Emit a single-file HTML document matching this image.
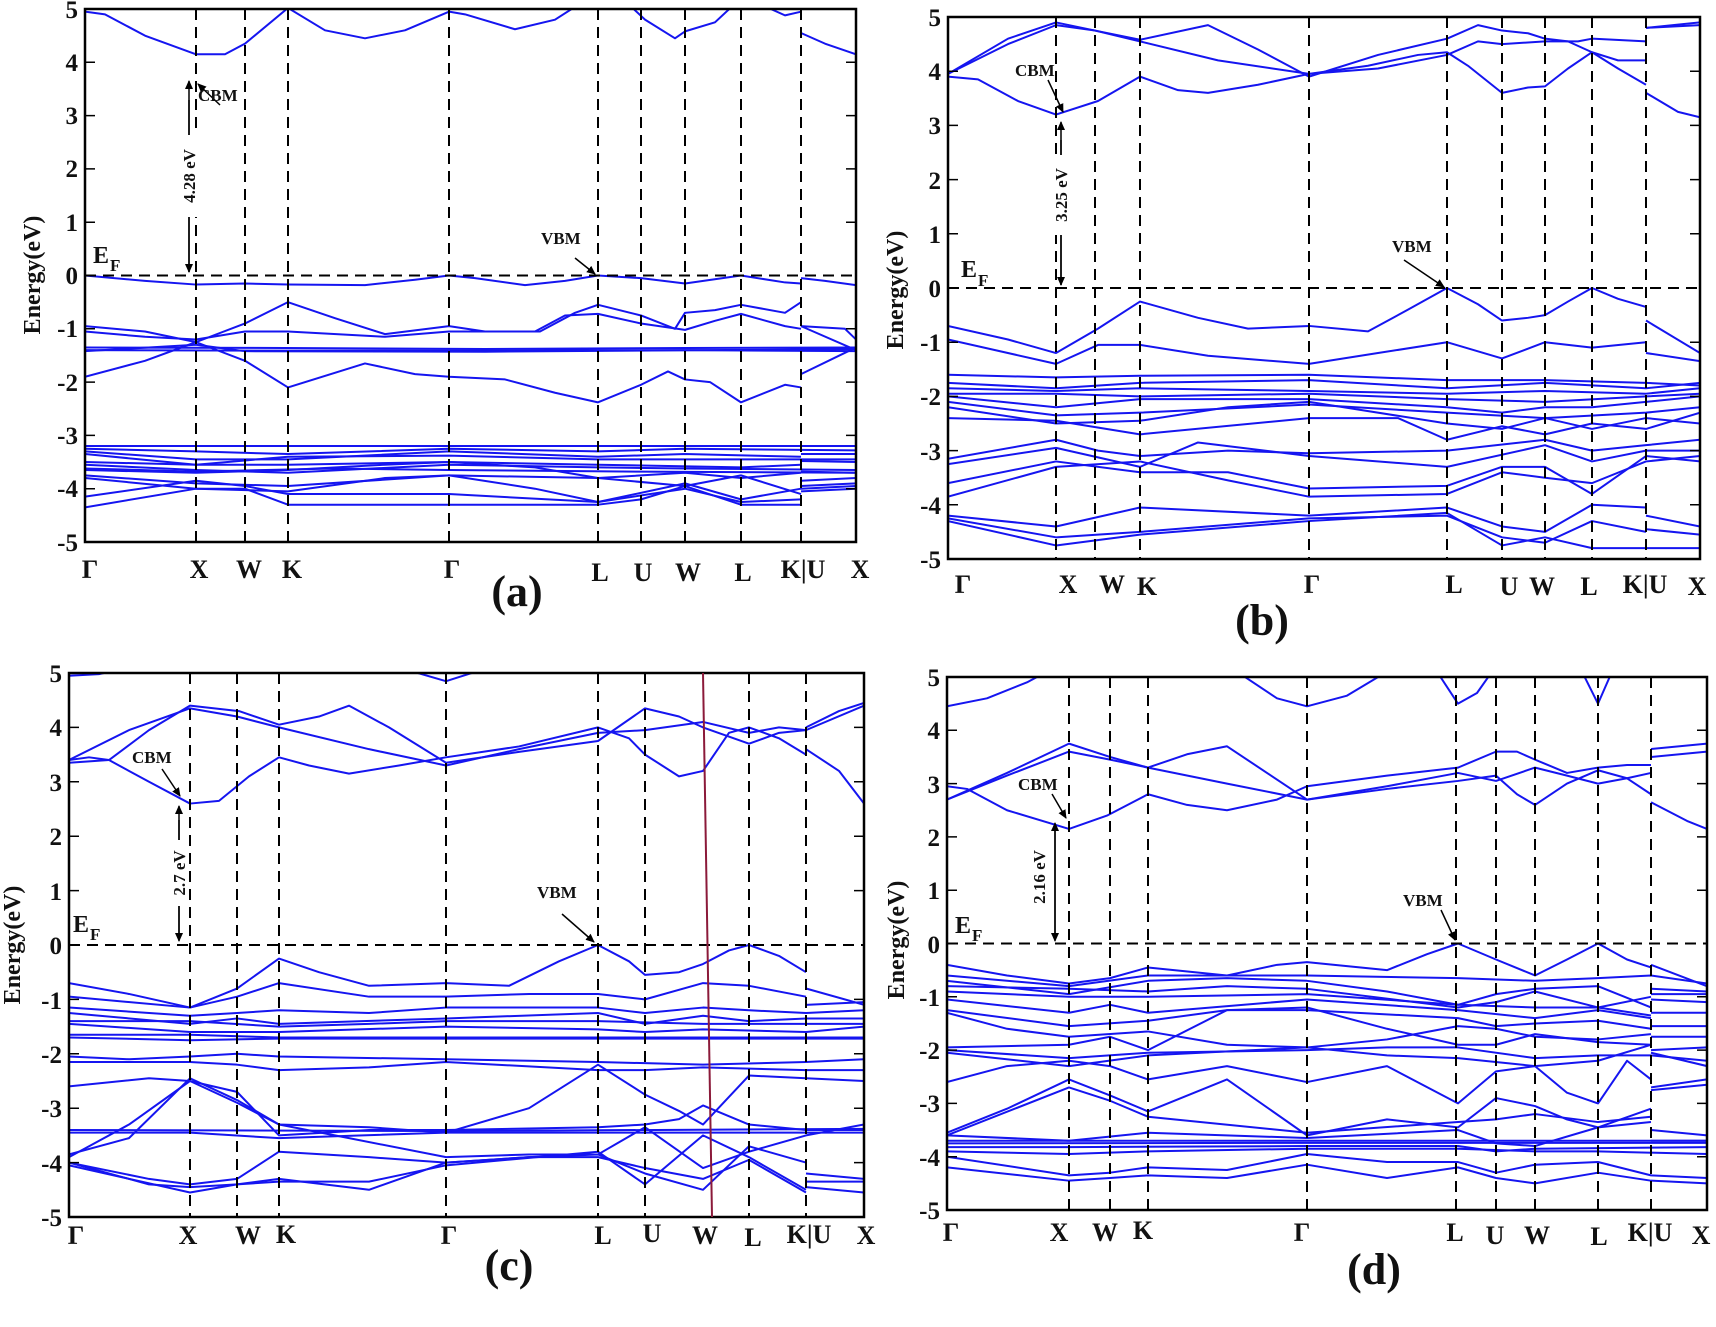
<!DOCTYPE html>
<html><head><meta charset="utf-8"><style>
html,body{margin:0;padding:0;background:#fff;}
svg text{font-family:"Liberation Serif",serif;font-weight:bold;fill:#111;}
.t{font-size:25px;text-anchor:end;}
.k{font-size:26px;text-anchor:middle;}
.lab{font-size:44px;text-anchor:middle;}
.en{font-size:24px;text-anchor:middle;}
.sm{font-size:17px;}
.b path{fill:none;stroke:#1515f0;stroke-width:2;vector-effect:non-scaling-stroke;stroke-linejoin:round;}
.d{stroke:#000;stroke-width:2;stroke-dasharray:11,7;fill:none;}
.f{fill:none;stroke:#000;stroke-width:2.5;}
</style></head><body>
<svg width="1716" height="1322" viewBox="0 0 1716 1322" xmlns="http://www.w3.org/2000/svg">
<defs><marker id="ah" markerWidth="10" markerHeight="10" refX="8" refY="5" orient="auto" markerUnits="userSpaceOnUse"><path d="M0,1 L9,5 L0,9 Z" fill="#000"/></marker></defs>

<!-- ================= PANEL A ================= -->
<svg x="85" y="9" width="771" height="533" viewBox="0 -5 771 10" preserveAspectRatio="none" overflow="hidden">
<g class="b" transform="scale(1,-1)">
<path d="M0,4.95 L20,4.9 L60,4.5 L111,4.15 L140,4.15 L160,4.35 L203,5.02 L240,4.6 L280,4.45 L320,4.6 L364,4.95 L380,4.9 L430,4.62 L470,4.8 L495,5.1"/>
<path d="M543,5.1 L560,4.8 L590,4.45 L600,4.58 L630,4.75 L650,5.1"/>
<path d="M680,5.05 L700,4.88 L716,4.95 M716,4.55 L740,4.35 L771,4.15"/>
<path d="M0,0 L60,-0.1 L111,-0.17 L160,-0.15 L203,-0.17 L280,-0.18 L330,-0.08 L364,0 L390,-0.05 L440,-0.18 L480,-0.1 L513,0 L556,-0.05 L600,-0.15 L656,0 L700,-0.13 L716,-0.15 M716,-0.05 L740,-0.1 L771,-0.18"/>
<path d="M0,-0.95 L60,-1.05 L111,-1.25 L160,-0.9 L203,-0.5 L250,-0.8 L300,-1.1 L364,-0.95 L400,-1.05 L455,-1.05 L490,-0.7 L513,-0.55 L556,-0.75 L590,-1.0 L600,-0.7 L630,-0.65 L656,-0.55 L700,-0.7 L716,-0.5 M716,-0.95 L760,-1.0 L771,-1.2"/>
<path d="M0,-1.05 L60,-1.15 L111,-1.2 L160,-1.05 L203,-1.05 L300,-1.15 L364,-1.05 L450,-1.05 L480,-0.75 L513,-0.72 L556,-0.9 L600,-1.02 L630,-0.85 L656,-0.72 L700,-0.95 L716,-1.0 M716,-0.95 L771,-1.4"/>
<path d="M0,-1.35 L200,-1.36 L400,-1.38 L600,-1.36 L771,-1.35"/>
<path d="M0,-1.4 L200,-1.41 L400,-1.41 L600,-1.4 L771,-1.42"/>
<path d="M0,-1.42 L111,-1.3 L160,-1.42 L400,-1.43 L771,-1.38"/>
<path d="M0,-1.9 L60,-1.6 L111,-1.25 L160,-1.6 L203,-2.1 L280,-1.65 L330,-1.85 L364,-1.9 L420,-1.95 L470,-2.2 L513,-2.38 L556,-2.05 L583,-1.8 L600,-1.95 L625,-2.0 L656,-2.38 L700,-2.05 L716,-2.1 M716,-1.85 L771,-1.35"/>
<path d="M0,-3.2 L364,-3.2 L771,-3.2"/>
<path d="M0,-3.25 L111,-3.3 L203,-3.35 L364,-3.25 L513,-3.3 L600,-3.25 L771,-3.28"/>
<path d="M0,-3.3 L111,-3.45 L203,-3.45 L364,-3.3 L513,-3.4 L600,-3.35 L716,-3.4 M716,-3.35 L771,-3.35"/>
<path d="M0,-3.35 L111,-3.55 L203,-3.4 L364,-3.38 L513,-3.45 L656,-3.45 L771,-3.45"/>
<path d="M0,-3.5 L111,-3.55 L203,-3.55 L364,-3.5 L513,-3.55 L656,-3.6 L716,-3.55 M716,-3.48 L771,-3.5"/>
<path d="M0,-3.55 L111,-3.65 L203,-3.7 L364,-3.55 L513,-3.6 L600,-3.62 L771,-3.65"/>
<path d="M0,-3.62 L111,-3.68 L250,-3.62 L364,-3.65 L556,-3.68 L771,-3.7"/>
<path d="M0,-3.65 L111,-3.7 L203,-3.65 L300,-3.55 L364,-3.5 L450,-3.6 L513,-3.8 L600,-3.7 L656,-3.8 L716,-3.7 M716,-3.68 L771,-3.7"/>
<path d="M0,-3.75 L111,-3.9 L203,-3.95 L364,-3.75 L513,-3.8 L600,-3.95 L656,-3.75 L716,-4.1 M716,-3.85 L771,-3.8"/>
<path d="M0,-4.15 L111,-3.85 L160,-3.95 L203,-4.1 L364,-4.1 L513,-4.25 L600,-3.9 L656,-4.2 L716,-4.0 M716,-3.95 L771,-3.9"/>
<path d="M0,-4.35 L111,-4.0 L160,-4.0 L203,-4.3 L364,-4.3 L513,-4.3 L556,-4.2 L600,-3.95 L656,-4.3 L716,-4.3 M716,-4.0 L771,-3.95"/>
<path d="M0,-3.8 L111,-4.0 L203,-4.05 L300,-3.8 L364,-3.75 L450,-4.0 L513,-4.25 L600,-4.0 L656,-4.25 L716,-4.2 M716,-4.05 L771,-4.0"/>
</g></svg>
<g>
<rect class="f" x="85" y="9" width="771" height="533"/>
<path class="d" d="M196,9V542M245,9V542M288,9V542M449,9V542M598,9V542M641,9V542M685,9V542M741,9V542M801,9V542M85,275.5H856"/>
<path d="M85,9h10M85,62.3h10M85,115.6h10M85,168.9h10M85,222.2h10M85,275.5h10M85,328.8h10M85,382.1h10M85,435.4h10M85,488.7h10M85,542h10M856,62.3h-10M856,115.6h-10M856,168.9h-10M856,222.2h-10M856,328.8h-10M856,382.1h-10M856,435.4h-10M856,488.7h-10" stroke="#000" stroke-width="1.5"/>
<text class="t" x="78" y="18">5</text><text class="t" x="78" y="71">4</text><text class="t" x="78" y="124">3</text><text class="t" x="78" y="177">2</text><text class="t" x="78" y="231">1</text><text class="t" x="78" y="284">0</text><text class="t" x="78" y="337">-1</text><text class="t" x="78" y="391">-2</text><text class="t" x="78" y="444">-3</text><text class="t" x="78" y="497">-4</text><text class="t" x="78" y="551">-5</text>
<text class="en" transform="translate(40,275) rotate(-90)">Energy(eV)</text>
<text class="k" x="90" y="578">Γ</text><text class="k" x="199" y="578">X</text><text class="k" x="249" y="578">W</text><text class="k" x="292" y="578">K</text><text class="k" x="452" y="578">Γ</text><text class="k" x="600" y="581">L</text><text class="k" x="643" y="581">U</text><text class="k" x="688" y="581">W</text><text class="k" x="743" y="581">L</text><text class="k" x="803" y="578">K|U</text><text class="k" x="860" y="578">X</text>
<text class="lab" x="517" y="606">(a)</text>
<text x="93" y="263" style="font-size:24px">E</text><text x="110" y="271" class="sm">F</text>
<line x1="189" y1="272" x2="189" y2="81" stroke="#000" stroke-width="1.5" marker-end="url(#ah)"/>
<line x1="189" y1="100" x2="189" y2="272" stroke="#000" stroke-width="1.5" marker-end="url(#ah)"/>
<rect x="181" y="135" width="16" height="82" fill="#fff"/>
<text class="sm" transform="translate(195,176) rotate(-90)" text-anchor="middle">4.28 eV</text>
<line x1="220" y1="105" x2="198" y2="84" stroke="#000" stroke-width="1.5" marker-end="url(#ah)"/>
<text class="sm" x="198" y="101">CBM</text>
<line x1="575" y1="258" x2="595" y2="274" stroke="#000" stroke-width="1.5" marker-end="url(#ah)"/>
<text class="sm" x="541" y="244">VBM</text>
</g>

<!-- ================= PANEL B ================= -->
<svg x="948" y="17" width="752" height="542" viewBox="0 -5 752 10" preserveAspectRatio="none" overflow="hidden">
<g class="b" transform="scale(1,-1)">
<path d="M0,3.9 L30,3.85 L70,3.45 L108,3.2 L150,3.45 L192,3.9 L230,3.65 L260,3.6 L310,3.75 L361,3.95 L420,4.1 L470,4.3 L499,4.35 L520,4.1 L554,3.6 L580,3.7 L597,3.72 L620,4.05 L644,4.35 L670,4.05 L698,3.75 M698,3.6 L730,3.25 L752,3.15"/>
<path d="M0,3.95 L60,4.5 L108,4.85 L147,4.75 L192,4.55 L270,4.2 L361,3.95 L430,4.05 L499,4.3 L530,4.55 L554,4.5 L597,4.55 L630,4.55 L644,4.6 L698,4.55 M698,4.8 L752,4.85"/>
<path d="M0,3.95 L60,4.6 L108,4.9 L147,4.75 L192,4.58 L260,4.85 L310,4.4 L361,3.9 L430,4.3 L499,4.6 L530,4.85 L554,4.75 L580,4.7 L597,4.6 L620,4.55 L644,4.35 L670,4.2 L698,4.2 M698,4.8 L752,4.9"/>
<path d="M0,-0.7 L60,-0.95 L108,-1.2 L150,-0.75 L192,-0.25 L250,-0.55 L300,-0.75 L361,-0.7 L420,-0.8 L460,-0.4 L499,0 L530,-0.3 L554,-0.6 L580,-0.55 L597,-0.5 L620,-0.25 L644,0 L670,-0.2 L698,-0.35 M698,-0.6 L752,-1.2"/>
<path d="M0,-0.95 L108,-1.4 L150,-1.05 L192,-1.05 L260,-1.25 L361,-1.4 L430,-1.2 L499,-1.0 L554,-1.3 L597,-1.0 L644,-1.1 L698,-1.0 M698,-1.2 L752,-1.35"/>
<path d="M0,-1.6 L108,-1.65 L192,-1.62 L361,-1.6 L499,-1.7 L597,-1.7 L698,-1.75 L752,-1.8"/>
<path d="M0,-1.75 L108,-1.85 L192,-1.75 L361,-1.7 L499,-1.85 L597,-1.75 L698,-1.85 L752,-1.75"/>
<path d="M0,-1.85 L108,-1.9 L192,-1.85 L361,-1.9 L499,-1.95 L597,-1.9 L698,-1.95 L752,-1.85"/>
<path d="M0,-1.95 L108,-1.95 L192,-2.0 L361,-1.95 L499,-2.05 L597,-2.1 L698,-2.0 L752,-1.95"/>
<path d="M0,-2.0 L108,-2.2 L192,-2.05 L361,-2.05 L499,-2.2 L554,-2.3 L597,-2.2 L644,-2.2 L698,-2.1 L752,-2.0"/>
<path d="M0,-2.1 L108,-2.35 L192,-2.3 L361,-2.15 L499,-2.3 L597,-2.4 L698,-2.3 L752,-2.2"/>
<path d="M0,-2.2 L108,-2.5 L192,-2.45 L280,-2.2 L361,-2.1 L499,-2.5 L554,-2.6 L597,-2.4 L644,-2.6 L698,-2.4 L752,-2.5"/>
<path d="M0,-2.4 L108,-2.45 L192,-2.7 L361,-2.4 L450,-2.4 L499,-2.8 L554,-2.55 L597,-2.7 L644,-2.5 L698,-2.6 L752,-2.3"/>
<path d="M0,-3.15 L108,-2.8 L150,-3.0 L192,-3.1 L280,-3.0 L361,-3.05 L499,-3.0 L597,-2.8 L644,-3.0 L698,-2.9 L752,-2.8"/>
<path d="M0,-3.25 L108,-2.95 L192,-3.3 L250,-2.85 L361,-3.1 L499,-3.3 L597,-2.9 L644,-3.2 L698,-3.0 L752,-3.0"/>
<path d="M0,-3.6 L108,-3.2 L192,-3.4 L280,-3.4 L361,-3.7 L499,-3.65 L554,-3.3 L597,-3.3 L644,-3.8 L698,-3.1 L752,-3.2"/>
<path d="M0,-3.85 L108,-3.3 L192,-3.2 L280,-3.55 L361,-3.85 L499,-3.8 L554,-3.4 L597,-3.5 L644,-3.6 L698,-3.2 L752,-3.1"/>
<path d="M0,-4.2 L108,-4.4 L192,-4.05 L361,-4.2 L499,-4.05 L554,-4.4 L597,-4.5 L644,-4.0 L698,-4.05 M698,-4.2 L752,-4.4"/>
<path d="M0,-4.25 L108,-4.6 L192,-4.5 L361,-4.25 L499,-4.2 L554,-4.6 L597,-4.7 L644,-4.3 L698,-4.5 M698,-4.45 L752,-4.55"/>
<path d="M0,-4.3 L108,-4.75 L192,-4.55 L361,-4.3 L499,-4.15 L554,-4.75 L597,-4.6 L644,-4.8 L698,-4.8 L752,-4.8"/>
</g></svg>
<g>
<rect class="f" x="948" y="17" width="752" height="542"/>
<path class="d" d="M1056,17V559M1095,17V559M1140,17V559M1309,17V559M1447,17V559M1502,17V559M1545,17V559M1592,17V559M1646,17V559M948,288H1700"/>
<path d="M948,71.2h10M948,125.4h10M948,179.6h10M948,233.8h10M948,342.2h10M948,396.4h10M948,450.6h10M948,504.8h10M1700,71.2h-10M1700,125.4h-10M1700,179.6h-10M1700,233.8h-10M1700,342.2h-10M1700,396.4h-10M1700,450.6h-10M1700,504.8h-10" stroke="#000" stroke-width="1.5"/>
<text class="t" x="941" y="26">5</text><text class="t" x="941" y="80">4</text><text class="t" x="941" y="134">3</text><text class="t" x="941" y="189">2</text><text class="t" x="941" y="243">1</text><text class="t" x="941" y="297">0</text><text class="t" x="941" y="351">-1</text><text class="t" x="941" y="405">-2</text><text class="t" x="941" y="460">-3</text><text class="t" x="941" y="514">-4</text><text class="t" x="941" y="568">-5</text>
<text class="en" transform="translate(903,290) rotate(-90)">Energy(eV)</text>
<text class="k" x="963" y="593">Γ</text><text class="k" x="1068" y="593">X</text><text class="k" x="1112" y="593">W</text><text class="k" x="1147" y="595">K</text><text class="k" x="1312" y="593">Γ</text><text class="k" x="1454" y="593">L</text><text class="k" x="1509" y="595">U</text><text class="k" x="1542" y="595">W</text><text class="k" x="1589" y="595">L</text><text class="k" x="1645" y="593">K|U</text><text class="k" x="1697" y="595">X</text>
<text class="lab" x="1262" y="635">(b)</text>
<text x="961" y="277" style="font-size:24px">E</text><text x="978" y="286" class="sm">F</text>
<line x1="1061" y1="285" x2="1061" y2="122" stroke="#000" stroke-width="1.5" marker-end="url(#ah)"/>
<line x1="1061" y1="140" x2="1061" y2="285" stroke="#000" stroke-width="1.5" marker-end="url(#ah)"/>
<rect x="1053" y="155" width="16" height="80" fill="#fff"/>
<text class="sm" transform="translate(1067,195) rotate(-90)" text-anchor="middle">3.25 eV</text>
<line x1="1048" y1="80" x2="1063" y2="112" stroke="#000" stroke-width="1.5" marker-end="url(#ah)"/>
<text class="sm" x="1015" y="76">CBM</text>
<line x1="1404" y1="260" x2="1444" y2="287" stroke="#000" stroke-width="1.5" marker-end="url(#ah)"/>
<text class="sm" x="1392" y="252">VBM</text>
</g>

<!-- ================= PANEL C ================= -->
<svg x="69" y="673" width="795" height="544" viewBox="0 -5 795 10" preserveAspectRatio="none" overflow="hidden">
<g class="b" transform="scale(1,-1)">
<path d="M0,4.95 L30,4.98 L60,5.1 M330,5.1 L377,4.85 L420,5.1"/>
<path d="M0,3.4 L20,3.45 L40,3.4 L80,3.0 L121,2.6 L150,2.65 L180,3.1 L210,3.45 L240,3.3 L280,3.15 L330,3.3 L377,3.45 L450,3.65 L529,4.0 L560,3.8 L576,3.5 L610,3.1 L634,3.2 L660,3.9 L680,4.0 L710,3.8 L737,3.5 M737,3.6 L770,3.2 L795,2.6"/>
<path d="M0,3.35 L40,3.4 L80,3.95 L121,4.4 L170,4.3 L210,4.05 L250,4.2 L280,4.4 L320,4.0 L377,3.35 L450,3.55 L529,3.75 L576,4.35 L610,4.2 L634,4.0 L680,3.7 L710,3.9 L737,3.95 M737,4.0 L770,4.3 L795,4.45"/>
<path d="M0,3.4 L60,3.95 L121,4.35 L168,4.2 L210,4.0 L300,3.6 L377,3.3 L450,3.6 L529,3.9 L576,3.95 L634,4.1 L680,3.9 L710,4.0 L737,3.95 M737,3.95 L795,4.4"/>
<path d="M0,-0.7 L60,-0.9 L121,-1.15 L168,-0.8 L210,-0.25 L250,-0.5 L300,-0.75 L377,-0.7 L440,-0.75 L490,-0.3 L529,0 L560,-0.3 L576,-0.55 L610,-0.5 L634,-0.35 L660,-0.1 L680,0 L710,-0.2 L737,-0.5 M737,-0.8 L795,-1.1"/>
<path d="M0,-0.95 L121,-1.15 L168,-0.95 L210,-0.7 L300,-0.95 L377,-0.95 L460,-0.9 L529,-0.9 L576,-1.0 L634,-0.7 L680,-0.75 L737,-0.95 M737,-1.1 L795,-1.05"/>
<path d="M0,-1.15 L121,-1.3 L168,-1.25 L210,-1.2 L300,-1.25 L377,-1.15 L529,-1.15 L576,-1.25 L634,-1.15 L680,-1.2 L737,-1.25 L795,-1.2"/>
<path d="M0,-1.25 L121,-1.45 L168,-1.35 L210,-1.45 L377,-1.35 L529,-1.25 L576,-1.45 L634,-1.3 L680,-1.4 L737,-1.35 L795,-1.35"/>
<path d="M0,-1.4 L121,-1.4 L210,-1.5 L300,-1.45 L377,-1.4 L529,-1.4 L634,-1.45 L737,-1.45 L795,-1.45"/>
<path d="M0,-1.45 L121,-1.6 L210,-1.6 L377,-1.5 L529,-1.55 L576,-1.6 L634,-1.55 L737,-1.6 L795,-1.5"/>
<path d="M0,-1.65 L121,-1.65 L210,-1.7 L377,-1.7 L529,-1.7 L680,-1.7 L795,-1.7"/>
<path d="M0,-1.7 L121,-1.75 L210,-1.72 L377,-1.72 L529,-1.72 L795,-1.72"/>
<path d="M0,-2.05 L60,-2.1 L121,-2.05 L168,-2.0 L210,-2.05 L377,-2.1 L529,-2.15 L634,-2.2 L737,-2.15 L795,-2.1"/>
<path d="M0,-2.15 L121,-2.15 L168,-2.2 L210,-2.3 L300,-2.25 L377,-2.15 L529,-2.3 L576,-2.3 L634,-2.25 L737,-2.3 L795,-2.3"/>
<path d="M0,-2.6 L80,-2.45 L121,-2.5 L168,-2.9 L210,-3.3 L300,-3.35 L377,-3.45 L460,-3.0 L529,-2.2 L576,-2.75 L610,-3.05 L634,-3.3 L680,-2.4 L737,-2.45 L795,-2.5"/>
<path d="M0,-3.9 L60,-3.3 L121,-2.5 L168,-2.7 L210,-3.5 L300,-3.4 L377,-3.4 L529,-3.35 L576,-3.3 L610,-3.2 L634,-2.95 L680,-3.3 L737,-3.4 L795,-3.4"/>
<path d="M0,-3.4 L377,-3.42 L795,-3.38"/>
<path d="M0,-3.45 L121,-3.45 L210,-3.55 L377,-3.45 L529,-3.45 L680,-3.45 L795,-3.45"/>
<path d="M0,-3.85 L60,-3.55 L121,-2.45 L168,-2.85 L210,-3.3 L280,-3.55 L377,-3.9 L460,-3.85 L529,-3.85 L576,-3.35 L634,-4.1 L680,-3.8 L737,-3.5 L795,-3.3"/>
<path d="M0,-4.0 L80,-4.3 L121,-4.4 L168,-4.3 L210,-3.8 L300,-3.9 L377,-4.0 L460,-3.9 L529,-3.85 L576,-4.2 L634,-4.5 L680,-3.7 L737,-4.0 M737,-4.2 L795,-4.3"/>
<path d="M0,-4.0 L80,-4.4 L121,-4.45 L168,-4.4 L210,-4.3 L300,-4.5 L377,-4.0 L460,-3.9 L529,-3.9 L576,-4.1 L634,-4.3 L680,-3.95 L737,-4.55 M737,-4.45 L795,-4.55"/>
<path d="M0,-4.05 L121,-4.55 L168,-4.4 L210,-4.35 L300,-4.35 L377,-4.05 L529,-3.8 L576,-4.4 L634,-3.5 L680,-3.9 L737,-4.5 M737,-4.35 L795,-4.35"/>
</g></svg>
<g>
<rect class="f" x="69" y="673" width="795" height="544"/>
<path class="d" d="M190,673V1217M237,673V1217M279,673V1217M446,673V1217M598,673V1217M645,673V1217M749,673V1217M806,673V1217M69,945H864"/>
<line x1="703" y1="673" x2="712" y2="1217" stroke="#8b1a3a" stroke-width="2"/>
<path d="M69,727.4h10M69,781.8h10M69,836.2h10M69,890.6h10M69,999.4h10M69,1053.8h10M69,1108.2h10M69,1162.6h10M864,727.4h-10M864,781.8h-10M864,836.2h-10M864,890.6h-10M864,999.4h-10M864,1053.8h-10M864,1108.2h-10M864,1162.6h-10" stroke="#000" stroke-width="1.5"/>
<text class="t" x="62" y="682">5</text><text class="t" x="62" y="736">4</text><text class="t" x="62" y="791">3</text><text class="t" x="62" y="845">2</text><text class="t" x="62" y="900">1</text><text class="t" x="62" y="954">0</text><text class="t" x="62" y="1009">-1</text><text class="t" x="62" y="1063">-2</text><text class="t" x="62" y="1117">-3</text><text class="t" x="62" y="1172">-4</text><text class="t" x="62" y="1226">-5</text>
<text class="en" transform="translate(20,945) rotate(-90)">Energy(eV)</text>
<text class="k" x="76" y="1244">Γ</text><text class="k" x="188" y="1244">X</text><text class="k" x="248" y="1244">W</text><text class="k" x="286" y="1243">K</text><text class="k" x="449" y="1244">Γ</text><text class="k" x="603" y="1244">L</text><text class="k" x="652" y="1242">U</text><text class="k" x="705" y="1244">W</text><text class="k" x="753" y="1246">L</text><text class="k" x="809" y="1243">K|U</text><text class="k" x="866" y="1244">X</text>
<text class="lab" x="509" y="1280">(c)</text>
<text x="73" y="932" style="font-size:24px">E</text><text x="90" y="940" class="sm">F</text>
<line x1="179" y1="940" x2="179" y2="806" stroke="#000" stroke-width="1.5" marker-end="url(#ah)"/>
<line x1="179" y1="820" x2="179" y2="941" stroke="#000" stroke-width="1.5" marker-end="url(#ah)"/>
<rect x="171" y="840" width="16" height="66" fill="#fff"/>
<text class="sm" transform="translate(185,873) rotate(-90)" text-anchor="middle">2.7 eV</text>
<line x1="162" y1="769" x2="180" y2="796" stroke="#000" stroke-width="1.5" marker-end="url(#ah)"/>
<text class="sm" x="132" y="763">CBM</text>
<line x1="562" y1="914" x2="594" y2="942" stroke="#000" stroke-width="1.5" marker-end="url(#ah)"/>
<text class="sm" x="537" y="898">VBM</text>
</g>

<!-- ================= PANEL D ================= -->
<svg x="947" y="677" width="760" height="533" viewBox="0 -5 760 10" preserveAspectRatio="none" overflow="hidden">
<g class="b" transform="scale(1,-1)">
<path d="M0,4.45 L40,4.6 L80,4.9 L100,5.1 M290,5.1 L330,4.6 L360,4.45 L400,4.65 L440,5.1 M490,5.1 L511,4.5 L530,4.7 L545,5.1 M635,5.1 L651,4.5 L665,5.1"/>
<path d="M0,2.7 L60,3.2 L122,3.75 L163,3.5 L201,3.3 L240,3.55 L280,3.7 L320,3.2 L360,2.7 L440,2.95 L511,3.2 L549,3.05 L588,3.3 L620,3.15 L651,3.0 L680,3.1 L704,3.2 M704,3.65 L760,3.75"/>
<path d="M0,2.95 L20,2.9 L60,2.5 L122,2.15 L160,2.4 L201,2.8 L240,2.6 L280,2.5 L330,2.7 L360,2.95 L440,3.15 L511,3.3 L549,3.6 L570,3.6 L588,3.45 L620,3.2 L651,3.3 L680,3.35 L704,3.35 M704,2.65 L740,2.3 L760,2.15"/>
<path d="M0,2.7 L60,3.15 L122,3.6 L163,3.45 L201,3.3 L280,3.0 L360,2.7 L440,2.9 L511,3.05 L549,3.15 L570,2.8 L588,2.6 L620,3.0 L651,3.25 L680,3.1 L704,2.8 M704,3.5 L760,3.6"/>
<path d="M0,-0.4 L60,-0.6 L122,-0.75 L163,-0.65 L201,-0.45 L280,-0.6 L330,-0.4 L360,-0.35 L440,-0.5 L480,-0.2 L511,0 L549,-0.3 L588,-0.6 L620,-0.3 L651,0 L680,-0.3 L704,-0.45 M704,-0.4 L760,-0.8"/>
<path d="M0,-0.6 L122,-0.8 L201,-0.6 L360,-0.6 L511,-0.65 L588,-0.7 L651,-0.65 L704,-0.6 L760,-0.75"/>
<path d="M0,-0.7 L122,-0.95 L201,-0.7 L280,-0.65 L360,-0.7 L440,-0.9 L511,-1.15 L549,-0.95 L588,-0.85 L651,-0.8 L704,-1.2 M704,-0.85 L760,-0.9"/>
<path d="M0,-0.8 L122,-0.85 L201,-0.9 L280,-0.8 L360,-0.85 L511,-1.2 L549,-1.1 L588,-0.9 L651,-1.2 L704,-1.0 M704,-0.95 L760,-0.95"/>
<path d="M0,-0.9 L122,-1.0 L201,-1.0 L360,-0.95 L511,-1.15 L588,-1.2 L651,-1.2 L704,-1.35 M704,-1.05 L760,-1.1"/>
<path d="M0,-1.05 L122,-1.3 L163,-1.15 L201,-1.3 L360,-1.05 L511,-1.25 L588,-1.4 L651,-1.25 L704,-1.4 M704,-1.3 L760,-1.3"/>
<path d="M0,-1.25 L122,-1.55 L201,-1.45 L280,-1.25 L360,-1.25 L511,-1.4 L549,-1.55 L588,-1.5 L651,-1.45 L704,-1.6 M704,-1.55 L760,-1.55"/>
<path d="M0,-1.3 L60,-1.6 L122,-1.75 L201,-1.65 L280,-1.9 L360,-1.95 L440,-1.8 L511,-1.55 L549,-1.6 L588,-1.75 L651,-1.8 L704,-1.7 M704,-1.75 L760,-1.75"/>
<path d="M0,-1.95 L122,-1.9 L163,-1.75 L201,-2.0 L280,-1.25 L360,-1.2 L440,-1.6 L511,-1.9 L549,-1.9 L588,-1.7 L651,-1.85 L704,-1.9 M704,-2.0 L760,-1.95"/>
<path d="M0,-2.0 L122,-2.15 L201,-2.05 L360,-2.0 L440,-1.95 L511,-1.95 L588,-2.15 L651,-2.1 L704,-2.1 M704,-2.1 L760,-2.2"/>
<path d="M0,-2.05 L122,-2.3 L201,-2.1 L360,-1.95 L440,-2.1 L511,-2.15 L588,-2.3 L651,-2.2 L704,-1.9 M704,-2.05 L760,-2.3"/>
<path d="M0,-2.6 L60,-2.3 L122,-2.2 L163,-2.3 L201,-2.55 L280,-2.3 L360,-2.6 L440,-2.3 L511,-3.0 L549,-2.4 L588,-2.3 L620,-2.8 L651,-3.0 L680,-2.2 L704,-2.55 M704,-2.7 L760,-2.55"/>
<path d="M0,-3.55 L60,-3.1 L122,-2.55 L163,-2.85 L201,-3.15 L280,-2.55 L360,-3.6 L440,-3.3 L511,-3.45 L549,-2.9 L588,-3.05 L620,-3.3 L651,-3.45 L704,-3.1 M704,-2.75 L760,-2.65"/>
<path d="M0,-3.6 L122,-2.7 L163,-2.95 L201,-3.25 L360,-3.55 L511,-3.35 L549,-3.3 L588,-3.2 L651,-3.35 L704,-3.25 M704,-3.5 L760,-3.6"/>
<path d="M0,-3.6 L122,-3.7 L201,-3.55 L360,-3.65 L511,-3.5 L549,-3.75 L588,-3.8 L651,-3.45 L704,-3.35 M704,-3.7 L760,-3.7"/>
<path d="M0,-3.7 L380,-3.7 L760,-3.7"/>
<path d="M0,-3.75 L380,-3.74 L760,-3.74"/>
<path d="M0,-3.82 L122,-3.82 L360,-3.8 L511,-3.8 L549,-3.9 L588,-3.85 L760,-3.82"/>
<path d="M0,-3.9 L122,-3.95 L201,-3.9 L360,-3.85 L511,-3.85 L588,-3.9 L651,-3.9 L760,-3.95"/>
<path d="M0,-4.0 L122,-4.35 L163,-4.3 L201,-4.2 L280,-4.25 L360,-3.95 L440,-4.1 L511,-4.1 L549,-4.3 L588,-4.15 L651,-4.1 L704,-4.35 L760,-4.4"/>
<path d="M0,-4.2 L122,-4.45 L163,-4.4 L201,-4.35 L280,-4.4 L360,-4.15 L440,-4.4 L511,-4.2 L549,-4.4 L588,-4.5 L651,-4.3 L704,-4.45 L760,-4.5"/>
</g></svg>
<g>
<rect class="f" x="947" y="677" width="760" height="533"/>
<path class="d" d="M1069,677V1210M1110,677V1210M1148,677V1210M1307,677V1210M1456,677V1210M1496,677V1210M1535,677V1210M1598,677V1210M1651,677V1210M947,943.5H1707"/>
<path d="M947,730.3h10M947,783.6h10M947,836.9h10M947,890.2h10M947,996.8h10M947,1050.1h10M947,1103.4h10M947,1156.7h10M1707,730.3h-10M1707,783.6h-10M1707,836.9h-10M1707,890.2h-10M1707,996.8h-10M1707,1050.1h-10M1707,1103.4h-10M1707,1156.7h-10" stroke="#000" stroke-width="1.5"/>
<text class="t" x="940" y="686">5</text><text class="t" x="940" y="739">4</text><text class="t" x="940" y="793">3</text><text class="t" x="940" y="846">2</text><text class="t" x="940" y="899">1</text><text class="t" x="940" y="953">0</text><text class="t" x="940" y="1006">-1</text><text class="t" x="940" y="1059">-2</text><text class="t" x="940" y="1112">-3</text><text class="t" x="940" y="1166">-4</text><text class="t" x="940" y="1219">-5</text>
<text class="en" transform="translate(904,940) rotate(-90)">Energy(eV)</text>
<text class="k" x="951" y="1241">Γ</text><text class="k" x="1059" y="1241">X</text><text class="k" x="1105" y="1241">W</text><text class="k" x="1143" y="1239">K</text><text class="k" x="1302" y="1241">Γ</text><text class="k" x="1455" y="1241">L</text><text class="k" x="1495" y="1244">U</text><text class="k" x="1537" y="1244">W</text><text class="k" x="1599" y="1245">L</text><text class="k" x="1650" y="1241">K|U</text><text class="k" x="1701" y="1244">X</text>
<text class="lab" x="1374" y="1284">(d)</text>
<text x="955" y="933" style="font-size:24px">E</text><text x="972" y="941" class="sm">F</text>
<line x1="1055" y1="940" x2="1055" y2="823" stroke="#000" stroke-width="1.5" marker-end="url(#ah)"/>
<line x1="1055" y1="830" x2="1055" y2="941" stroke="#000" stroke-width="1.5" marker-end="url(#ah)"/>
<text class="sm" transform="translate(1045,877) rotate(-90)" text-anchor="middle">2.16 eV</text>
<line x1="1052" y1="794" x2="1066" y2="818" stroke="#000" stroke-width="1.5" marker-end="url(#ah)"/>
<text class="sm" x="1018" y="790">CBM</text>
<line x1="1441" y1="910" x2="1455" y2="940" stroke="#000" stroke-width="1.5" marker-end="url(#ah)"/>
<text class="sm" x="1403" y="906">VBM</text>
</g>
</svg>
</body></html>
